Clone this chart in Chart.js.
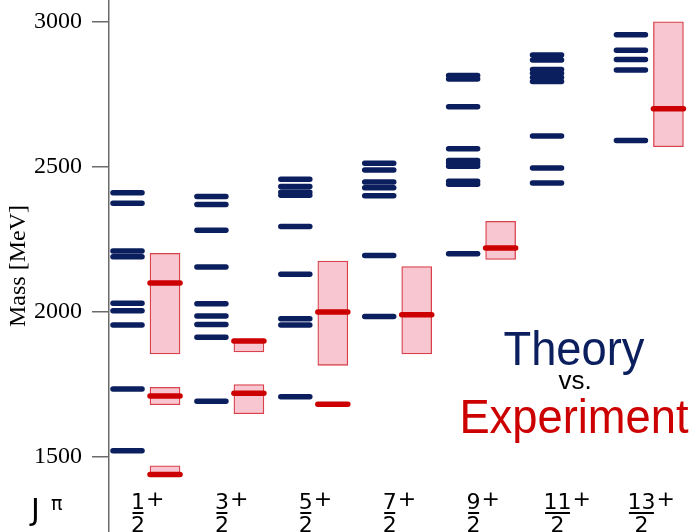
<!DOCTYPE html>
<html>
<head>
<meta charset="utf-8">
<script src="https://cdn.jsdelivr.net/npm/chart.js@4.4.1/dist/chart.umd.min.js"></script>
<style>
  html, body { margin: 0; padding: 0; background: #fff; }
  #wrap { width: 691px; height: 532px; }
</style>
</head>
<body>
<div id="wrap"><canvas id="massChart"></canvas></div>
<script>
// J^pi numerators (all over 2, positive parity)
const spinNumerators = ["1", "3", "5", "7", "9", "11", "13"];
const parity = "+";

// theory levels (MeV) per J
const theoryJ1 = [2411, 2374, 2210, 2190, 2030, 2004, 1955, 1734, 1522];
const theoryJ3 = [2398, 2370, 2281, 2155, 2028, 1986, 1957, 1913, 1692];
const theoryJ5 = [2457, 2432, 2412, 2402, 2294, 2130, 1976, 1955, 1708];
const theoryJ7 = [2512, 2489, 2448, 2428, 2400, 2194, 1984];
const theoryJ9 = [2815, 2803, 2707, 2562, 2522, 2512, 2502, 2450, 2440, 2200];
const theoryJ11 = [2885, 2868, 2835, 2822, 2808, 2794, 2606, 2496, 2444];
const theoryJ13 = [2955, 2902, 2870, 2834, 2591];
const theoryByJ = [theoryJ1, theoryJ3, theoryJ5, theoryJ7, theoryJ9, theoryJ11, theoryJ13];

// experiment: which J column, central mass, range
const expJ    = [0,    0,    0,    1,    1,    2,    2,    3,    4,    6];
const expMass = [2100, 1710, 1440, 1900, 1720, 2000, 1682, 1990, 2220, 2700];
const expLow  = [1855, 1680, 1435, 1862, 1649, 1816, 1678, 1855, 2181, 2569];
const expHigh = [2202, 1740, 1470, 1902, 1750, 2175, 1688, 2156, 2312, 3000];

const yTicks = [1500, 2000, 2500, 3000];

const NAVY = "#0b1f5e";
const RED = "#cc0000";

// horizontal layout inside one J column (in column units)
const theoryFrom = -0.298, theoryTo = 0.048;
const expCenter = 0.322, expHalf = 0.179;

const theoryPts = [];
theoryByJ.forEach((levels, j) => {
  levels.forEach((m) => {
    theoryPts.push({ x: j + theoryFrom, y: m }, { x: j + theoryTo, y: m }, { x: j, y: null });
  });
});

const expLinePts = [];
expMass.forEach((m, i) => {
  const c = expJ[i] + expCenter;
  expLinePts.push({ x: c - expHalf, y: m }, { x: c + expHalf, y: m }, { x: c, y: null });
});

const expBoxes = expMass.map((_, i) => ({ x: expJ[i] + expCenter, y: [expLow[i], expHigh[i]] }));

const labelsPlugin = {
  id: "labels",
  afterDraw(chart) {
    const ctx = chart.ctx;
    const xs = chart.scales.x;
    ctx.save();
    ctx.fillStyle = "#000";

    // J pi
    ctx.textAlign = "left";
    ctx.textBaseline = "alphabetic";
    ctx.font = '30px "DejaVu Sans"';
    ctx.fillText("J", 31, 520);
    ctx.font = '19px "DejaVu Sans"';
    ctx.fillText("\u03c0", 51, 510);

    // fractions
    ctx.font = '22px "DejaVu Sans"';
    spinNumerators.forEach((num, j) => {
      const cx = xs.getPixelForValue(j);
      const w = ctx.measureText(num).width;
      ctx.textAlign = "center";
      ctx.fillText(num, cx, 509);
      ctx.fillText("2", cx, 532);
      const bw = Math.max(w - 3, 11);
      ctx.fillRect(cx - bw / 2, 512, bw, 2);
      ctx.textAlign = "left";
      ctx.fillText(parity, cx + w / 2 + 1, 506);
    });

    // Theory vs. Experiment
    const squeezed = (text, x, y, font, color) => {
      ctx.save();
      ctx.translate(x, y);
      ctx.scale(0.925, 1);
      ctx.font = font;
      ctx.fillStyle = color;
      ctx.textAlign = "center";
      ctx.fillText(text, 0, 0);
      ctx.restore();
    };
    squeezed("Theory", 574, 365, '49px "Liberation Sans"', NAVY);
    ctx.font = '26px "Liberation Sans"';
    ctx.textAlign = "center";
    ctx.fillStyle = "#000";
    ctx.fillText("vs.", 575, 389);
    squeezed("Experiment", 574, 433, '49px "Liberation Sans"', RED);
    ctx.restore();
  },
};

new Chart(document.getElementById("massChart"), {
  type: "scatter",
  data: {
    datasets: [
      {
        type: "bar",
        data: expBoxes,
        backgroundColor: "#f8c6d0",
        borderColor: "#d8414a",
        borderWidth: 1.3,
        borderSkipped: false,
        barThickness: 30,
        order: 3,
      },
      {
        type: "line",
        data: theoryPts,
        borderColor: NAVY,
        borderWidth: 5.5,
        borderCapStyle: "round",
        pointRadius: 0,
        spanGaps: false,
        tension: 0,
        order: 2,
      },
      {
        type: "line",
        data: expLinePts,
        borderColor: RED,
        borderWidth: 5.5,
        borderCapStyle: "round",
        pointRadius: 0,
        spanGaps: false,
        tension: 0,
        order: 1,
      },
    ],
  },
  options: {
    responsive: true,
    maintainAspectRatio: false,
    animation: false,
    layout: { padding: 0 },
    plugins: { legend: { display: false }, tooltip: { enabled: false } },
    scales: {
      x: {
        type: "linear",
        display: false,
        offset: false,
        min: -0.3456,
        max: 6.591,
        grid: { offset: false },
      },
      y: {
        type: "linear",
        min: 1241.6,
        max: 3074.8,
        afterBuildTicks: (scale) => {
          scale.ticks = yTicks.map((v) => ({ value: v }));
        },
        afterFit: (scale) => {
          scale.width = 109;
          scale.paddingTop = 0;
          scale.paddingBottom = 0;
        },
        border: { display: true, color: "#6b6b6b", width: 1.5 },
        grid: {
          drawOnChartArea: false,
          drawTicks: true,
          tickLength: 17,
          color: "#6b6b6b",
          lineWidth: 1.5,
        },
        ticks: {
          padding: 10,
          color: "#000",
          font: { family: "Liberation Serif", size: 24 },
          callback: (v) => String(v),
        },
        title: {
          display: true,
          text: "Mass [MeV]",
          color: "#000",
          font: { family: "Liberation Serif", size: 24 },
        },
      },
    },
  },
  plugins: [labelsPlugin],
});
</script>
</body>
</html>
